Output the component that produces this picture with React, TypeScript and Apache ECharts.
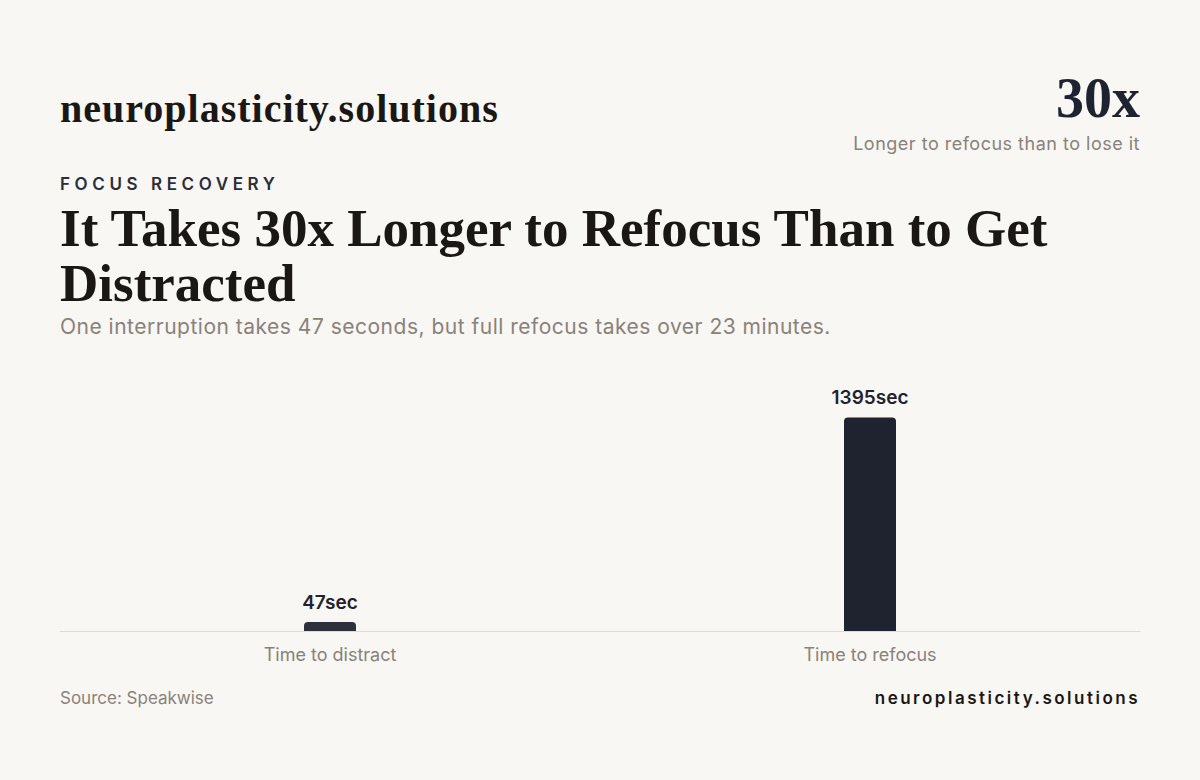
import React, { useEffect, useRef } from "react";
import * as echarts from "echarts";

const categories = ["Time to distract", "Time to refocus"];
const seconds = [47, 1395];
const barColors = ["#2e303c", "#1f2330"];

const SERIF = "'Liberation Serif', 'DejaVu Serif', serif";
const SANS = "Inter, 'Noto Sans', sans-serif";

const spacingRules: { text: string; size: string; spacing: string }[] = [
  { text: "FOCUS RECOVERY", size: "17px", spacing: "4.6" },
  { text: "neuroplasticity.solutions", size: "17px", spacing: "2.5" },
  { text: "neuroplasticity.solutions", size: "40px", spacing: "1" },
  { text: "One interruption takes 47 seconds, but full refocus takes over 23 minutes.", size: "21px", spacing: "0.5" },
  { text: "Longer to refocus than to lose it", size: "18px", spacing: "0.5" },
];

export default function App() {
  const ref = useRef<HTMLDivElement>(null);
  useEffect(() => {
    document.body.style.margin = "0";
    const chart = echarts.init(ref.current!, null, { renderer: "svg" });
    chart.setOption({
      animation: false,
      backgroundColor: "#f8f7f4",
      grid: { left: 60, right: 60, top: 386, bottom: 149 },
      xAxis: {
        type: "category",
        data: categories,
        axisLine: { lineStyle: { color: "#dedad4", width: 1 } },
        axisTick: { show: false },
        axisLabel: { color: "#8a817a", fontSize: 18, fontFamily: SANS, margin: 14 },
      },
      yAxis: { type: "value", min: 0, max: 1600, show: false, splitLine: { show: false } },
      series: [
        {
          type: "bar",
          barWidth: 52,
          barMinHeight: 9,
          data: seconds.map((v, i) => ({ value: v, itemStyle: { color: barColors[i] } })),
          itemStyle: { borderRadius: [4, 4, 0, 0] },
          label: {
            show: true,
            position: "top",
            distance: 10,
            formatter: "{c}sec",
            fontFamily: SANS,
            fontSize: 19,
            fontWeight: 600,
            color: "#1f2330",
          },
        },
      ],
      graphic: [
        { type: "text", x: 60, y: 108.5, style: { text: "neuroplasticity.solutions", font: `bold 40px ${SERIF}`, fill: "#1a1714", textVerticalAlign: "middle" } },
        { type: "text", x: 1140, y: 98, style: { text: "30x", font: `bold 56px ${SERIF}`, fill: "#1f2330", textAlign: "right", textVerticalAlign: "middle" } },
        { type: "text", x: 1140, y: 143, style: { text: "Longer to refocus than to lose it", font: `18px ${SANS}`, fill: "#8a817a", textAlign: "right", textVerticalAlign: "middle" } },
        { type: "text", x: 60, y: 184, style: { text: "FOCUS RECOVERY", font: `600 17px ${SANS}`, fill: "#2a2d3a", textVerticalAlign: "middle" } },
        { type: "text", x: 60, y: 228, style: { text: "It Takes 30x Longer to Refocus Than to Get", font: `bold 53px ${SERIF}`, fill: "#1a1714", textVerticalAlign: "middle" } },
        { type: "text", x: 60, y: 283, style: { text: "Distracted", font: `bold 53px ${SERIF}`, fill: "#1a1714", textVerticalAlign: "middle" } },
        { type: "text", x: 60, y: 326, style: { text: "One interruption takes 47 seconds, but full refocus takes over 23 minutes.", font: `21px ${SANS}`, fill: "#8a817a", textVerticalAlign: "middle" } },
        { type: "text", x: 60, y: 698, style: { text: "Source: Speakwise", font: `17px ${SANS}`, fill: "#8a817a", textVerticalAlign: "middle" } },
        { type: "text", x: 1140, y: 698, style: { text: "neuroplasticity.solutions", font: `600 17px ${SANS}`, fill: "#1a1714", textAlign: "right", textVerticalAlign: "middle" } },
      ],
    });
    const spacing = () => {
      const texts = ref.current?.querySelectorAll("text") || [];
      texts.forEach((t) => {
        const style = t.getAttribute("style") || "";
        spacingRules.forEach((r) => {
          if (t.textContent === r.text && style.includes(r.size)) t.setAttribute("letter-spacing", r.spacing);
        });
      });
    };
    spacing();
    const id = setTimeout(spacing, 50);
    return () => {
      clearTimeout(id);
      chart.dispose();
    };
  }, []);
  return <div ref={ref} style={{ width: 1200, height: 780 }} />;
}
